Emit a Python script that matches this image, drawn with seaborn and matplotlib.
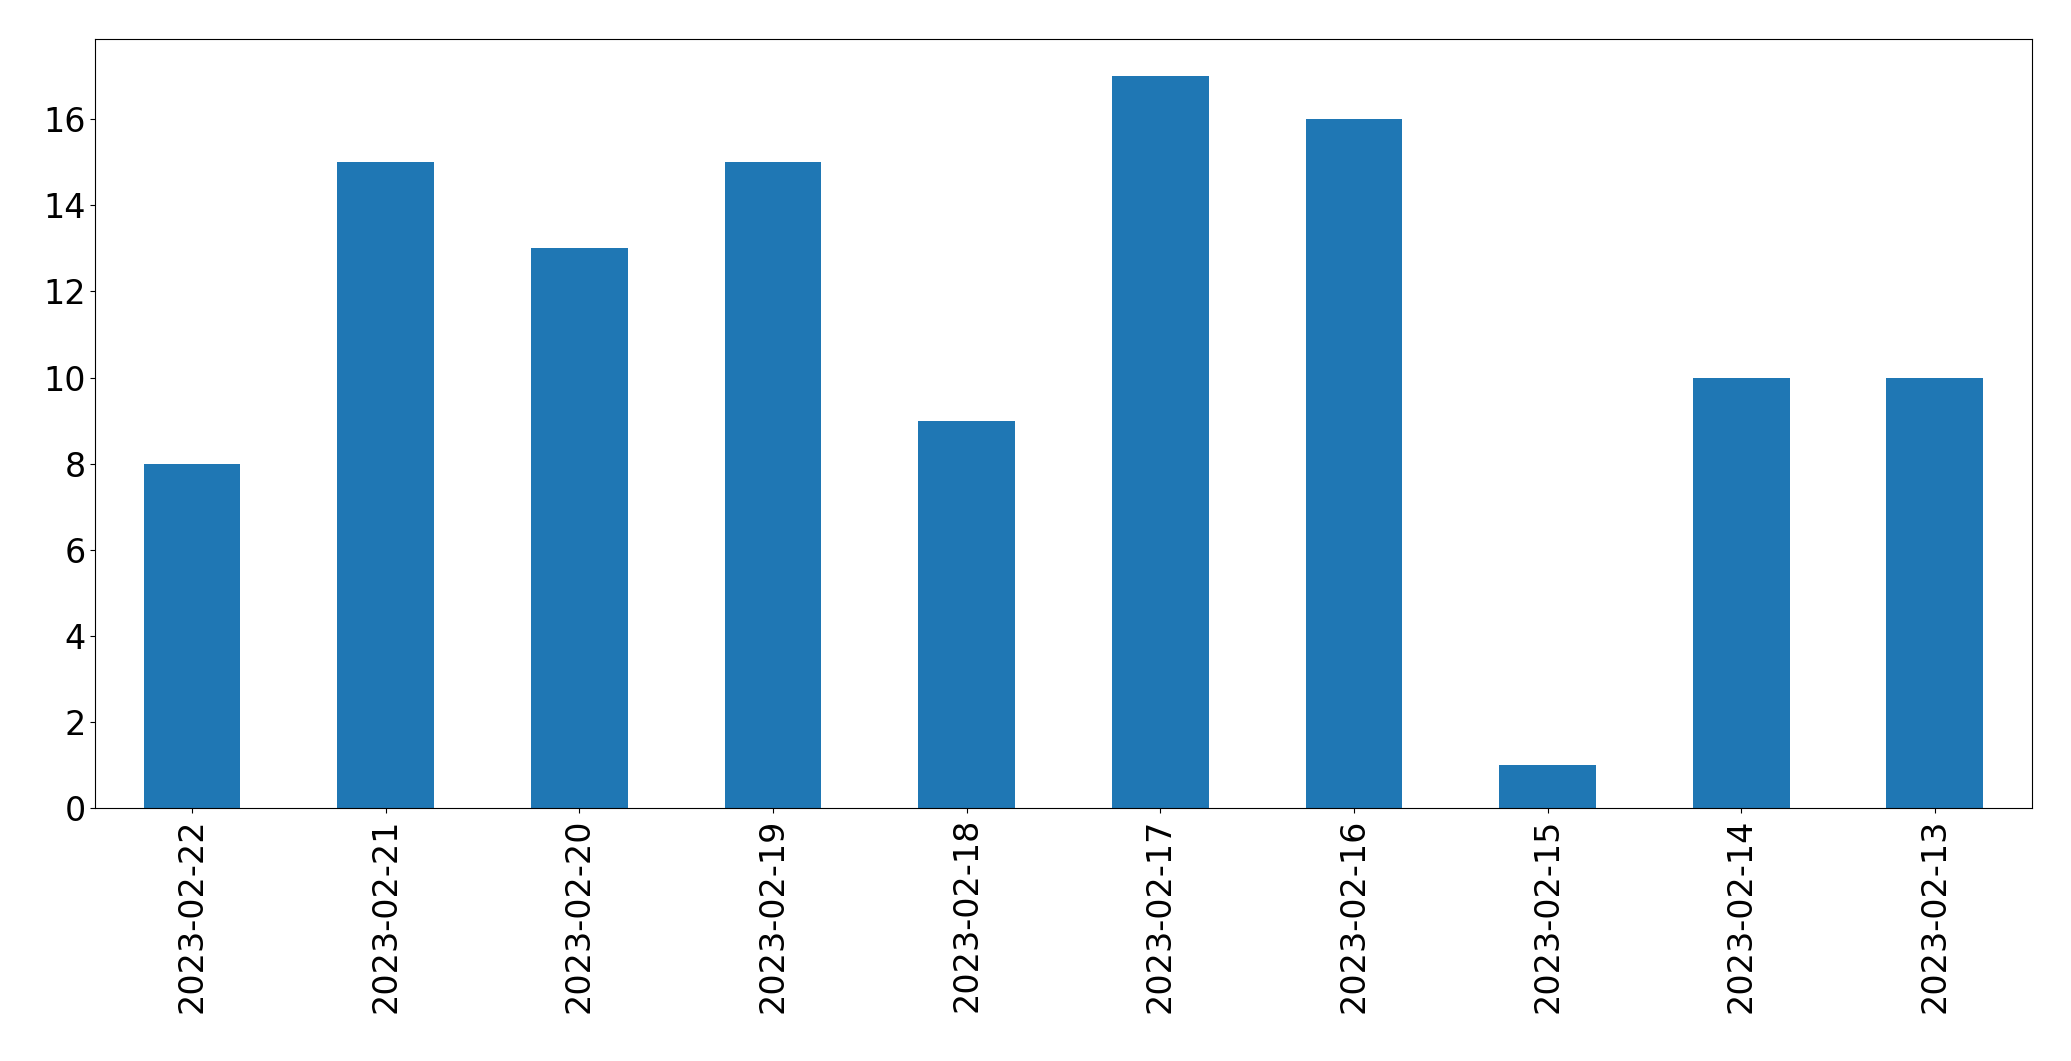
import matplotlib
matplotlib.use("Agg")
import matplotlib.pyplot as plt
import seaborn as sns
import pandas as pd

dates = ['2023-02-22', '2023-02-21', '2023-02-20', '2023-02-19', '2023-02-18',
         '2023-02-17', '2023-02-16', '2023-02-15', '2023-02-14', '2023-02-13']
counts = [8, 15, 13, 15, 9, 17, 16, 1, 10, 10]

df = pd.DataFrame({'date': dates, 'count': counts})

fig, ax = plt.subplots(figsize=(20.71, 10.61), dpi=100)
sns.barplot(data=df, x='date', y='count', color='#1f77b4', saturation=1, width=0.5, ax=ax)
ax.set_xlim(-0.5, len(dates) - 0.5)
ax.set_ylim(0, max(counts) * 1.05)
ax.set_xlabel('')
ax.set_ylabel('')
ax.tick_params(axis='both', labelsize=24)
plt.setp(ax.get_xticklabels(), rotation=90)
plt.subplots_adjust(left=0.046, right=0.981, top=0.963, bottom=0.238)
plt.savefig('out.png')
